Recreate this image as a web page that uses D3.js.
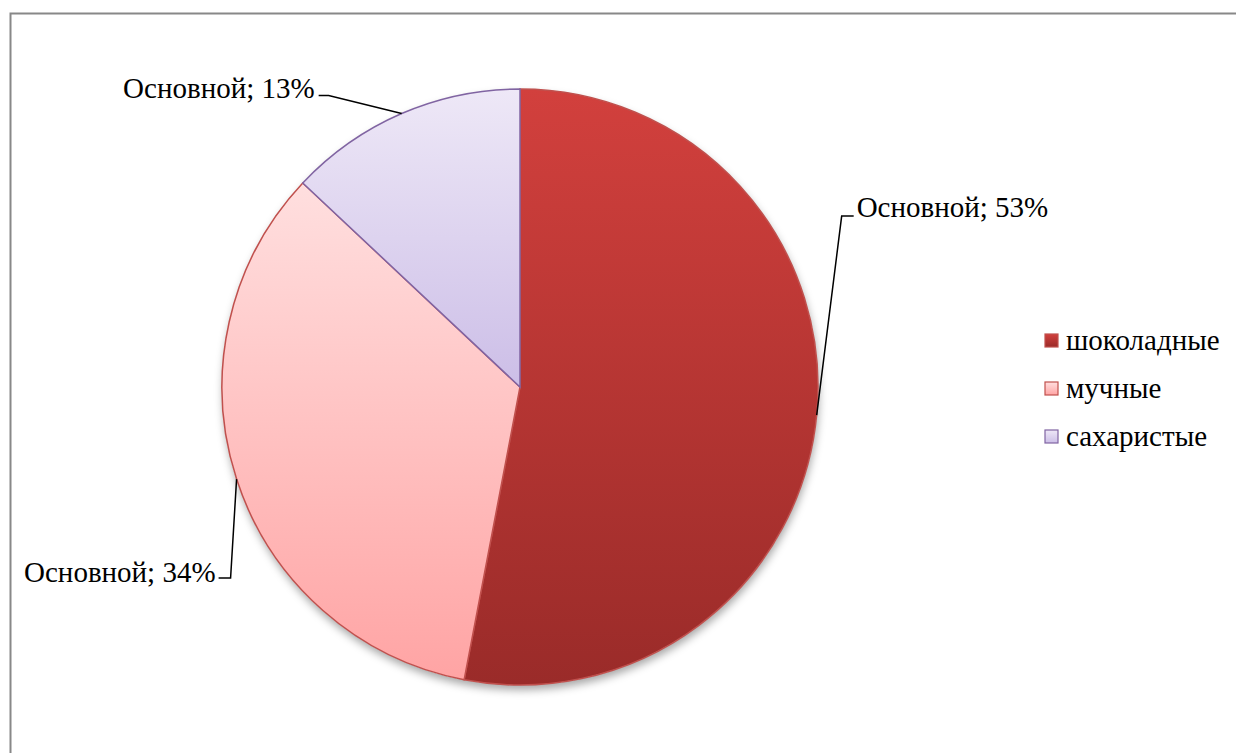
<!DOCTYPE html>
<html><head><meta charset="utf-8">
<script src="https://cdn.jsdelivr.net/npm/d3@7"></script>
<style>html,body{margin:0;padding:0;background:#fff;}svg{display:block;}
text{font-family:"Liberation Serif","Tinos","Times New Roman","DejaVu Serif",serif;}</style>
</head><body>
<svg id="chart" width="1236" height="753"></svg>
<script>
const categories = ["шоколадные", "мучные", "сахаристые"];
const values = [53, 34, 13];
const seriesName = "Основной";
const topColors = ["#d2403d", "#ffdfdf", "#eee8f7"];
const bottomColors = ["#9a2b29", "#ffa4a4", "#ccbee7"];
const strokeColors = ["#c0504d", "#c0504d", "#8064a2"];

const svg = d3.select("#chart");
const cx = 520, cy = 387, R = 298;

// frame
svg.append("path").attr("d", `M10.5,753 L10.5,13.5 L1236,13.5`)
  .attr("fill","none").attr("stroke","#888").attr("stroke-width",2);

const defs = svg.append("defs");
categories.forEach((c,i)=>{
  const g = defs.append("linearGradient").attr("id","g"+i)
    .attr("x1",0).attr("y1",0).attr("x2",0).attr("y2",1);
  g.append("stop").attr("offset","0%").attr("stop-color",topColors[i]);
  g.append("stop").attr("offset","100%").attr("stop-color",bottomColors[i]);
});
const f = defs.append("filter").attr("id","sh").attr("x","-10%").attr("y","-10%").attr("width","120%").attr("height","125%");
f.append("feDropShadow").attr("dx",1).attr("dy",5).attr("stdDeviation",4)
  .attr("flood-color","#000").attr("flood-opacity",0.35);

const pie = d3.pie().sort(null).value(d=>d);
const arcs = pie(values);
const arc = d3.arc().innerRadius(0).outerRadius(R);

const g = svg.append("g").attr("transform",`translate(${cx},${cy})`);
g.append("g").attr("filter","url(#sh)").append("circle").attr("r",R).attr("fill","#fff");
g.selectAll("path.slice").data(arcs).enter().append("path")
  .attr("class","slice")
  .attr("d",arc)
  .attr("fill",(d,i)=>`url(#g${i})`)
  .attr("stroke",(d,i)=>strokeColors[i])
  .attr("stroke-width",1.5);

// labels with leader lines
const fs = 29;
arcs.forEach((d,i)=>{
  const a = (d.startAngle+d.endAngle)/2;
  const px = cx + R*Math.sin(a), py = cy - R*Math.cos(a);
  const txt = `${seriesName}; ${values[i]}%`;
  let tx, ty, anchor, pts;
  if (i===0) {
    const ex = px+25, ey = py-199;
    pts = [[px,py],[ex,ey],[ex+12,ey]];
    tx = ex+15; ty = ey+1; anchor = "start";
  } else if (i===1) {
    const ex = px-6, ey = py+99;
    pts = [[px,py],[ex,ey],[ex-12,ey]];
    tx = ex-15; ty = ey+4; anchor = "end";
  } else {
    const ex = px-73, ey = py-18;
    pts = [[px,py],[ex,ey],[ex-10,ey]];
    tx = ex-14; ty = ey+2; anchor = "end";
  }
  svg.append("path").attr("d", d3.line()(pts)).attr("fill","none")
    .attr("stroke","#000").attr("stroke-width",1.5);
  svg.append("text").attr("x",tx).attr("y",ty).attr("text-anchor",anchor)
    .attr("font-size",fs).attr("fill","#000").text(txt);
});

// legend
const leg = svg.append("g");
categories.forEach((c,i)=>{
  const y = 341 + i*48;
  leg.append("rect").attr("x",1045).attr("y",y-7).attr("width",13).attr("height",13)
    .attr("fill",`url(#g${i})`).attr("stroke",strokeColors[i]).attr("stroke-width",1.2);
  leg.append("text").attr("x",1066).attr("y",y+9)
    .attr("font-size",fs).attr("fill","#000").text(c);
});
</script>
</body></html>
